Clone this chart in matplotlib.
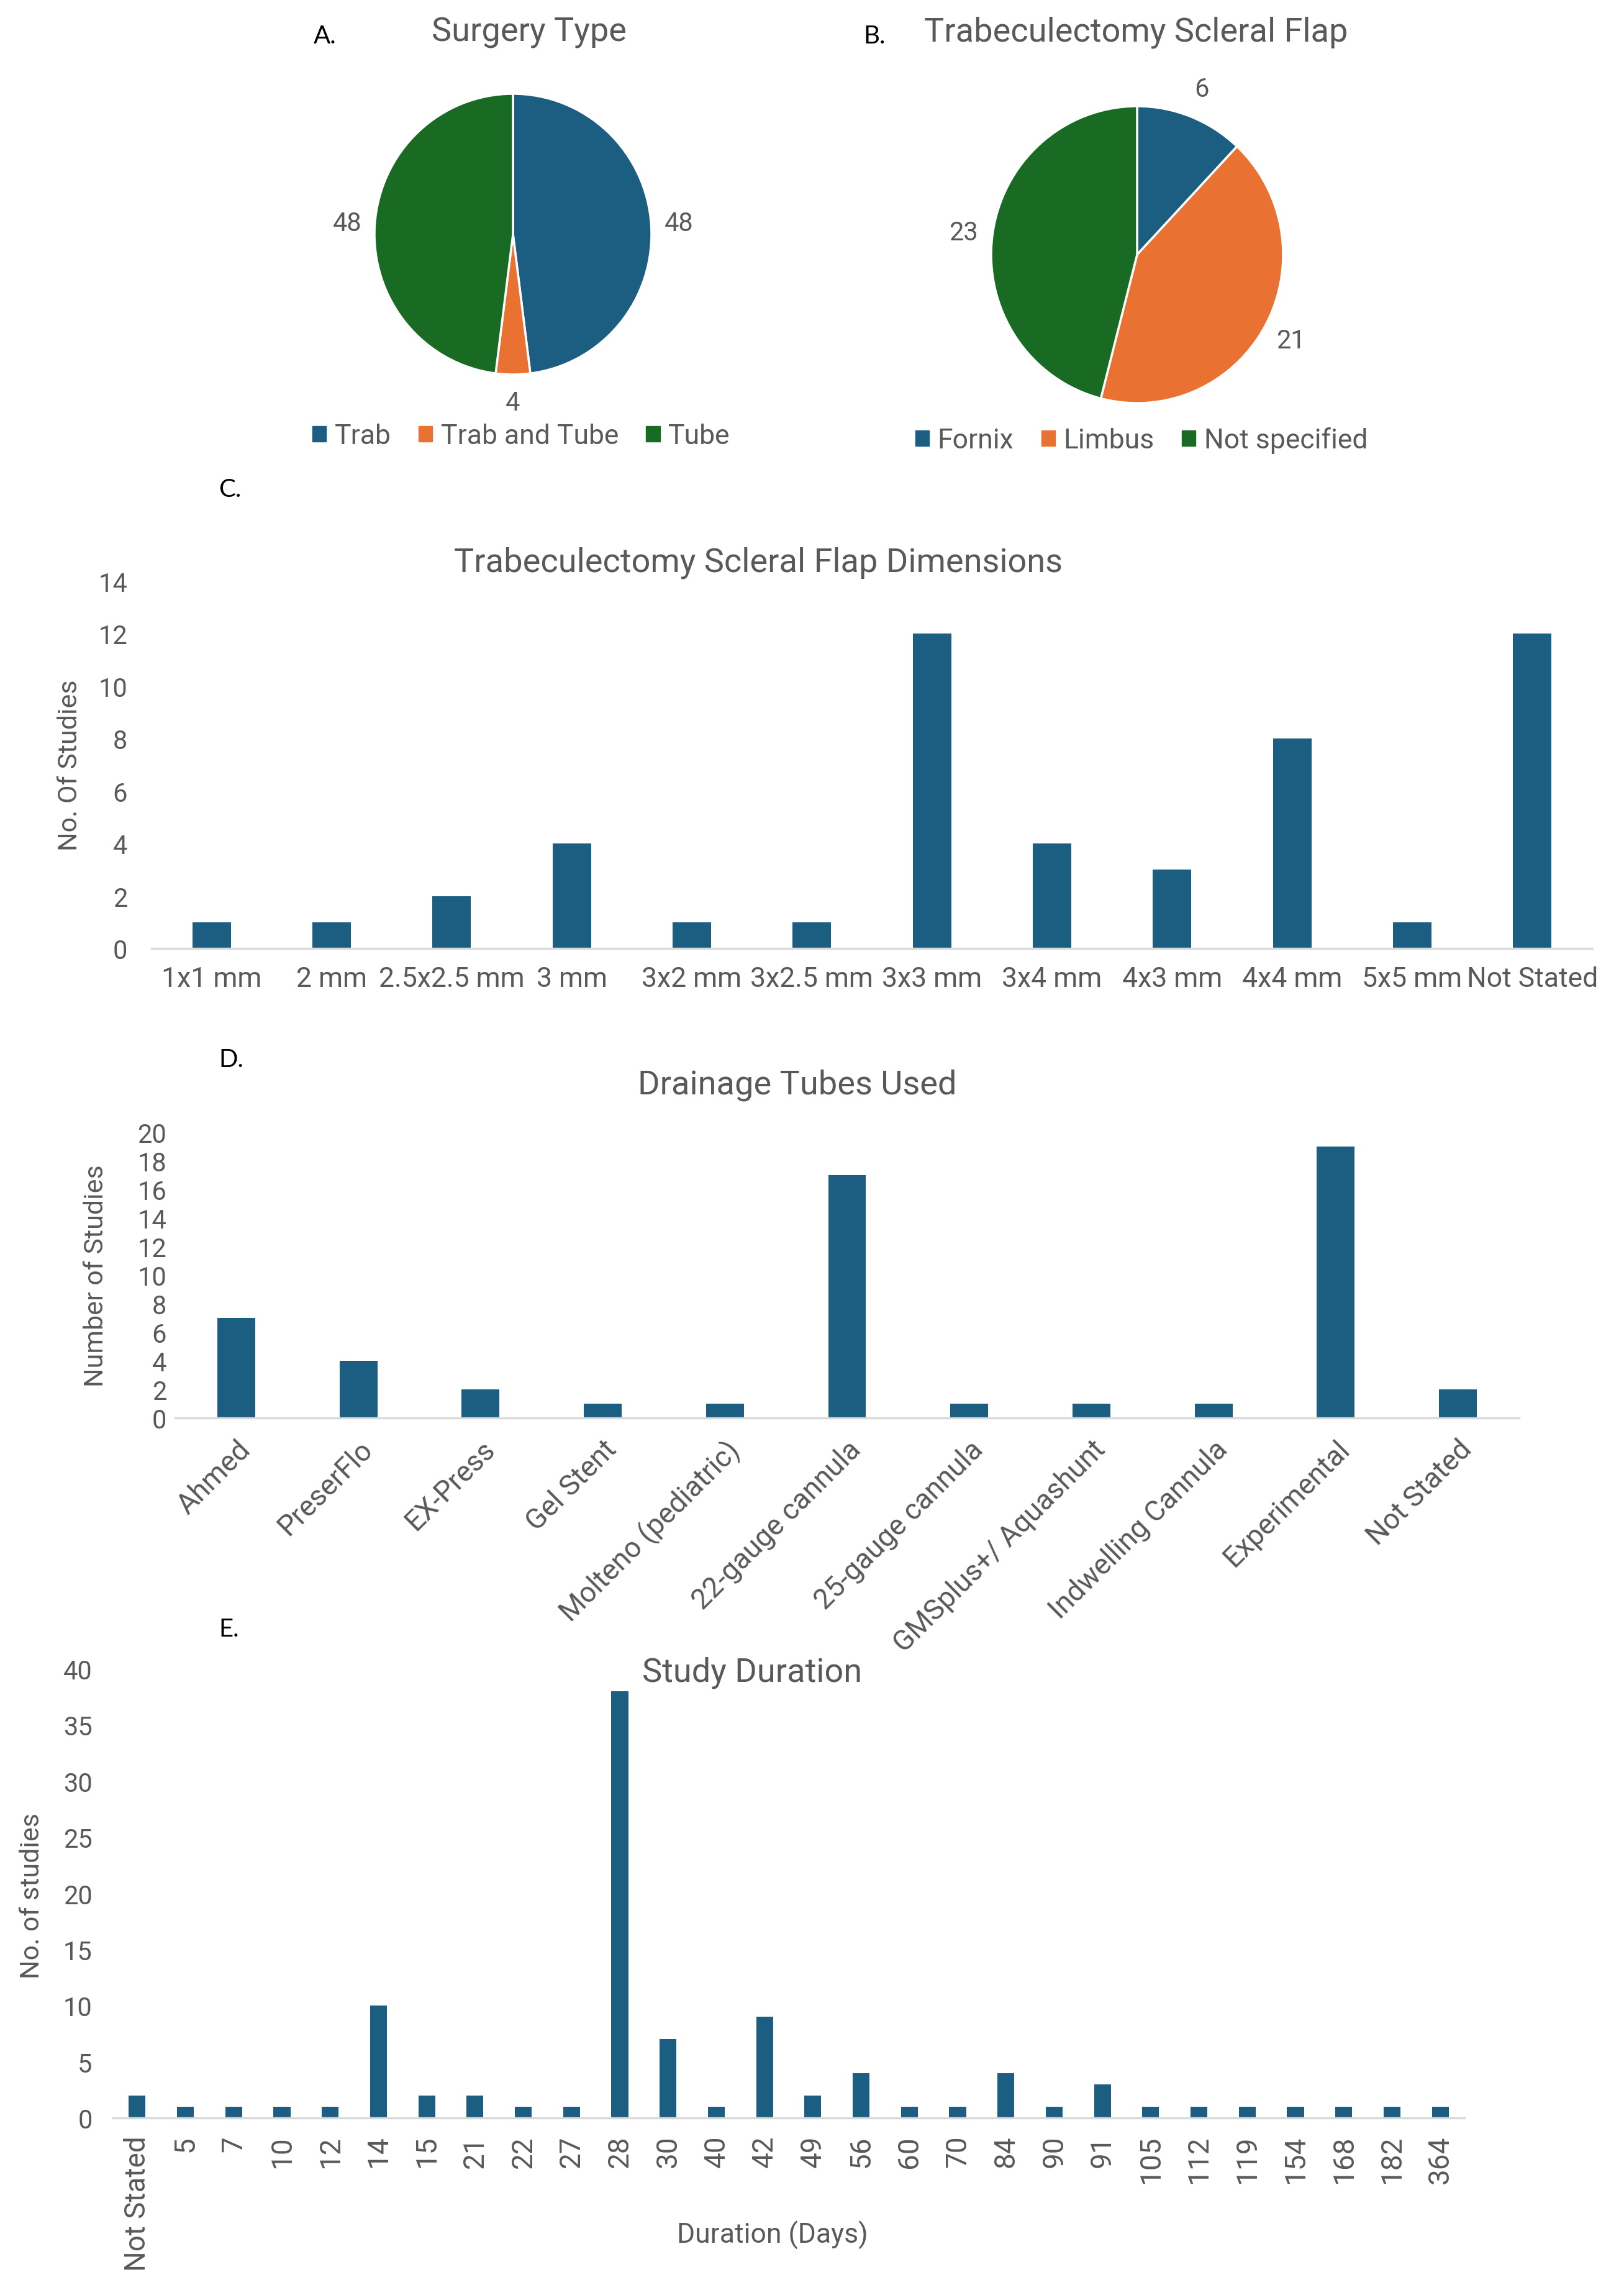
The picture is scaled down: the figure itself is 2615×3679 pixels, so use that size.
import matplotlib
matplotlib.use("Agg")
import matplotlib.pyplot as plt
from matplotlib.patches import Patch

plt.rcParams['font.family'] = ['Roboto', 'DejaVu Sans']

# ---------------- data ----------------
surgery_labels = ["Trab", "Trab and Tube", "Tube"]
surgery_values = [48, 4, 48]

flap_labels = ["Fornix", "Limbus", "Not specified"]
flap_values = [6, 21, 23]

dim_categories = ["1x1 mm", "2 mm", "2.5x2.5 mm", "3 mm", "3x2 mm", "3x2.5 mm",
                  "3x3 mm", "3x4 mm", "4x3 mm", "4x4 mm", "5x5 mm", "Not Stated"]
dim_values = [1, 1, 2, 4, 1, 1, 12, 4, 3, 8, 1, 12]

tube_categories = ["Ahmed", "PreserFlo", "EX-Press", "Gel Stent", "Molteno (pediatric)",
                   "22-gauge cannula", "25-gauge cannula", "GMSplus+/ Aquashunt",
                   "Indwelling Cannula", "Experimental", "Not Stated"]
tube_values = [7, 4, 2, 1, 1, 17, 1, 1, 1, 19, 2]

duration_categories = ["Not Stated", "5", "7", "10", "12", "14", "15", "21", "22", "27",
                       "28", "30", "40", "42", "49", "56", "60", "70", "84", "90", "91",
                       "105", "112", "119", "154", "168", "182", "364"]
duration_values = [2, 1, 1, 1, 1, 10, 2, 2, 1, 1, 38, 7, 1, 9, 2, 4, 1, 1, 4, 1, 3,
                   1, 1, 1, 1, 1, 1, 1]

# ---------------- style ----------------
BLUE = "#1b5e82"
ORANGE = "#e97132"
GREEN = "#196b24"
TXT = "#595959"
AXIS = "#d9d9d9"
pie_colors = [BLUE, ORANGE, GREEN]
TITLE_FS = 39

W, H = 2615, 3680
fig = plt.figure(figsize=(W / 100, H / 100), dpi=100)
fig.patch.set_facecolor("white")


def box(x0, y_top, x1, y_bot):
    return [x0 / W, 1 - y_bot / H, (x1 - x0) / W, (y_bot - y_top) / H]


def letter(x, y, s):
    fig.text(x / W, 1 - y / H, s, fontsize=29, color="black", ha="left", va="center",
             family=["Lato", "DejaVu Sans"])


def ftitle(x, y, s):
    fig.text(x / W, 1 - y / H, s, fontsize=TITLE_FS, color=TXT, ha="center", va="center")


# ---------------- A: pie ----------------
axA = fig.add_axes(box(603, 152, 1049, 604))
wedges, texts = axA.pie(surgery_values, labels=[str(v) for v in surgery_values],
                        colors=pie_colors, startangle=90, counterclock=False,
                        labeldistance=1.2,
                        wedgeprops=dict(edgecolor="white", linewidth=2.5),
                        textprops=dict(color=TXT, fontsize=30))
for t in texts:
    t.set_ha("center")
    t.set_va("center")
axA.set_aspect("auto")
axA.set_xlim(-1.0, 1.0)
axA.set_ylim(-1.0, 1.0)
axA.legend(handles=[Patch(color=c, label=l) for c, l in zip(pie_colors, surgery_labels)],
           loc="center", bbox_to_anchor=(0.53, -0.22), ncol=3, frameon=False,
           fontsize=32, labelcolor=TXT, handlelength=0.5, handleheight=0.5,
           handletextpad=0.3, columnspacing=1.0, borderaxespad=0)
letter(505, 59, "A.")
ftitle(852, 52, "Surgery Type")

# ---------------- B: pie ----------------
axB = fig.add_axes(box(1596, 172, 2066, 650))
wedges, texts = axB.pie(flap_values, labels=[str(v) for v in flap_values],
                        colors=pie_colors, startangle=90, counterclock=False,
                        labeldistance=1.2,
                        wedgeprops=dict(edgecolor="white", linewidth=2.5),
                        textprops=dict(color=TXT, fontsize=30))
for t in texts:
    t.set_ha("center")
    t.set_va("center")
axB.set_aspect("auto")
axB.set_xlim(-1.0, 1.0)
axB.set_ylim(-1.0, 1.0)
axB.legend(handles=[Patch(color=c, label=l) for c, l in zip(pie_colors, flap_labels)],
           loc="center", bbox_to_anchor=(0.515, -0.125), ncol=3, frameon=False,
           fontsize=32, labelcolor=TXT, handlelength=0.5, handleheight=0.5,
           handletextpad=0.3, columnspacing=1.0, borderaxespad=0)
letter(1390, 59, "B.")
ftitle(1829, 52, "Trabeculectomy Scleral Flap")


def style_bar_axes(ax, xfs, yfs):
    for s in ["top", "right", "left"]:
        ax.spines[s].set_visible(False)
    ax.spines["bottom"].set_color(AXIS)
    ax.spines["bottom"].set_linewidth(2.5)
    ax.tick_params(axis="both", length=0, colors=TXT)
    ax.tick_params(axis="x", labelsize=xfs)
    ax.tick_params(axis="y", labelsize=yfs)
    ax.set_facecolor("none")


# ---------------- C: bar ----------------
axC = fig.add_axes(box(244, 937, 2564, 1528))
xc = range(len(dim_categories))
axC.bar(xc, dim_values, width=0.32, color=BLUE)
axC.set_xlim(-0.5, len(dim_categories) - 0.5)
axC.set_ylim(0, 14)
axC.set_yticks(range(0, 15, 2))
axC.set_xticks(list(xc))
axC.set_xticklabels(dim_categories)
style_bar_axes(axC, 32, 30)
axC.tick_params(axis="x", pad=20)
axC.tick_params(axis="y", pad=28)
letter(352, 789, "C.")
ftitle(1221, 906, "Trabeculectomy Scleral Flap Dimensions")
fig.text(113 / W, 1 - 1232 / H, "No. Of Studies", rotation=90, fontsize=31, color=TXT,
         ha="center", va="center")

# ---------------- D: bar ----------------
axD = fig.add_axes(box(282, 1824, 2446, 2284))
xd = range(len(tube_categories))
axD.bar(xd, tube_values, width=0.31, color=BLUE)
axD.set_xlim(-0.5, len(tube_categories) - 0.5)
axD.set_ylim(0, 20)
axD.set_yticks(range(0, 21, 2))
axD.set_xticks(list(xd))
axD.set_xticklabels(tube_categories, rotation=45, ha="right", rotation_mode="anchor")
style_bar_axes(axD, 33, 30)
axD.tick_params(axis="x", pad=20)
axD.tick_params(axis="y", pad=10)
letter(352, 1707, "D.")
ftitle(1284, 1747, "Drainage Tubes Used")
fig.text(155 / W, 1 - 2054 / H, "Number of Studies", rotation=90, fontsize=31, color=TXT,
         ha="center", va="center")

# ---------------- E: bar ----------------
axE = fig.add_axes(box(182, 2688, 2358, 3411))
xe = range(len(duration_categories))
axE.bar(xe, duration_values, width=0.35, color=BLUE)
axE.set_xlim(-0.5, len(duration_categories) - 0.5)
axE.set_ylim(0, 40)
axE.set_yticks(range(0, 41, 5))
axE.set_xticks(list(xe))
axE.set_xticklabels(duration_categories, rotation=90, ha="center", va="top")
style_bar_axes(axE, 33, 30)
axE.tick_params(axis="x", pad=20)
axE.tick_params(axis="y", pad=24)
letter(352, 2624, "E.")
ftitle(1211, 2693, "Study Duration")
fig.text(52 / W, 1 - 3052 / H, "No. of studies", rotation=90, fontsize=31, color=TXT,
         ha="center", va="center")
fig.text(1244 / W, 1 - 3599 / H, "Duration (Days)", fontsize=32, color=TXT,
         ha="center", va="center")

fig.savefig("out.png", dpi=100, facecolor="white")
